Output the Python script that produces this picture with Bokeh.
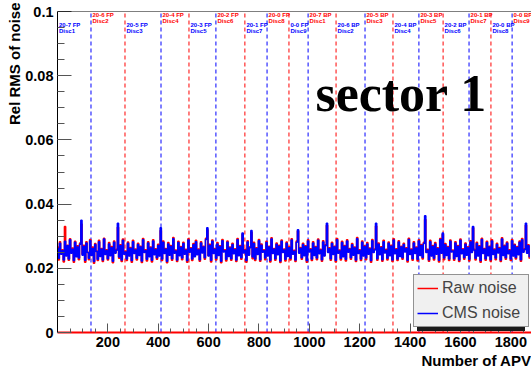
import numpy as np
from bokeh.plotting import figure
from bokeh.models import (Range1d, FixedTicker, Legend, LegendItem, Label, Span, Title,
                          ColumnDataSource)
from bokeh.core.properties import value
from bokeh.embed import file_html
from bokeh.resources import INLINE

# ---------------- data ----------------
APV_STEP = 5  # one sample every 5 APVs

# Relative RMS of noise, in units of 1e-4
raw_noise_e4 = [
    266, 226, 283, 246, 258, 220, 330, 241, 272, 225, 292, 249, 263, 219, 284, 238, 270, 227, 279, 338,
    244, 272, 219, 283, 250, 227, 290, 242, 266, 216, 277, 254, 224, 287, 239, 262, 221, 294, 245, 258,
    226, 280, 241, 268, 217, 285, 249, 259, 328, 231, 273, 221, 291, 246, 254, 224, 282, 240, 265, 219,
    287, 248, 260, 226, 278, 242, 269, 218, 293, 251, 258, 223, 283, 238, 266, 220, 289, 244, 261, 228,
    275, 240, 318, 224, 285, 248, 262, 217, 280, 243, 271, 225, 296, 249, 257, 221, 284, 241, 268, 227,
    281, 246, 259, 219, 292, 252, 264, 224, 277, 238, 287, 244, 260, 222, 283, 250, 269, 228, 294, 320,
    240, 275, 220, 288, 248, 262, 226, 280, 242, 270, 217, 290, 253, 258, 223, 285, 239, 266, 225, 278,
    247, 261, 221, 293, 241, 271, 228, 305, 250, 259, 219, 286, 243, 267, 312, 230, 281, 224, 264, 245,
    290, 222, 276, 252, 258, 227, 284, 240, 269, 220, 295, 248, 262, 225, 279, 244, 272, 218, 288, 251,
    260, 223, 282, 239, 267, 226, 292, 246, 256, 221, 285, 316, 249, 265, 228, 278, 241, 270, 219, 289,
    253, 261, 224, 283, 242, 268, 227, 291, 247, 259, 222, 286, 240, 273, 334, 251, 264, 225, 281, 245,
    269, 220, 293, 249, 257, 226, 284, 238, 271, 223, 289, 252, 262, 228, 277, 243, 266, 221, 296, 248,
    258, 224, 285, 240, 270, 227, 280, 246, 263, 219, 290, 251, 260, 332, 225, 279, 244, 267, 222, 287,
    250, 259, 226, 282, 241, 272, 221, 292, 247, 261, 224, 286, 239, 269, 228, 278, 253, 264, 220, 294,
    245, 260, 225, 283, 248, 266, 223, 289, 242, 274, 229, 281, 352, 251, 259, 222, 287, 240, 271, 226,
    280, 246, 264, 220, 293, 249, 306, 227, 277, 242, 268, 224, 288, 253, 257, 225, 283, 239, 271, 221,
    291, 247, 261, 228, 279, 243, 267, 223, 286, 251, 326, 259, 226, 281, 240, 270, 219, 294, 248, 262,
    225, 284, 241, 269, 222, 289, 245, 260, 227, 278, 250, 265, 221, 295, 242, 272, 228, 282, 247, 258,
    224, 290, 240, 275, 229, 268, 244, 285, 222, 293, 252, 261, 334, 249, 273, 231,
]
cms_noise_e4 = [
    262, 231, 278, 244, 255, 226, 284, 238, 270, 229, 289, 247, 259, 224, 281, 236, 266, 232, 275, 350,
    241, 268, 225, 279, 249, 231, 286, 240, 262, 221, 274, 252, 228, 283, 237, 259, 226, 291, 243, 255,
    230, 276, 239, 264, 222, 281, 247, 256, 340, 235, 270, 226, 287, 244, 251, 229, 278, 238, 262, 224,
    283, 246, 257, 231, 274, 240, 266, 223, 289, 249, 255, 228, 279, 236, 263, 225, 285, 242, 258, 233,
    271, 238, 326, 229, 281, 246, 259, 222, 276, 241, 268, 230, 292, 247, 254, 226, 280, 239, 265, 232,
    277, 244, 256, 224, 288, 250, 261, 229, 273, 236, 283, 242, 257, 227, 279, 248, 266, 233, 290, 326,
    238, 271, 225, 284, 246, 259, 231, 276, 240, 267, 222, 286, 251, 255, 228, 281, 237, 263, 230, 274,
    245, 258, 226, 289, 239, 268, 233, 310, 248, 256, 224, 282, 241, 264, 318, 235, 277, 229, 261, 243,
    286, 227, 272, 250, 255, 232, 280, 238, 266, 225, 291, 246, 259, 230, 275, 242, 269, 223, 284, 249,
    257, 228, 278, 237, 264, 231, 288, 244, 253, 226, 281, 320, 247, 262, 233, 274, 239, 267, 224, 285,
    251, 258, 229, 279, 240, 265, 232, 287, 245, 256, 227, 282, 238, 270, 340, 249, 261, 230, 277, 243,
    266, 225, 289, 247, 254, 231, 280, 236, 268, 228, 285, 250, 259, 233, 273, 241, 263, 226, 292, 246,
    255, 229, 281, 238, 267, 232, 276, 244, 260, 224, 286, 249, 257, 340, 230, 275, 242, 264, 227, 283,
    248, 256, 231, 278, 239, 269, 226, 288, 245, 258, 229, 282, 237, 266, 233, 274, 251, 261, 225, 290,
    243, 257, 230, 279, 246, 263, 228, 285, 240, 271, 234, 277, 364, 249, 256, 227, 283, 238, 268, 231,
    276, 244, 261, 225, 289, 247, 310, 232, 273, 240, 265, 229, 284, 251, 254, 230, 279, 237, 268, 226,
    287, 245, 258, 233, 275, 241, 264, 228, 282, 249, 330, 256, 231, 277, 238, 267, 224, 290, 246, 259,
    230, 280, 239, 266, 227, 285, 243, 257, 232, 274, 248, 262, 226, 291, 240, 269, 233, 278, 245, 255,
    229, 286, 238, 272, 234, 265, 242, 281, 227, 289, 250, 258, 340, 247, 270, 236,
]

# APV numbers where a new disc starts
disc_boundaries = [133, 268, 411, 522, 629, 744, 832, 919, 995,
                   1106, 1221, 1332, 1435, 1531, 1634, 1721, 1805]
disc_names = ["20-7 FP", "20-6 FP", "20-5 FP", "20-4 FP", "20-3 FP", "20-2 FP",
              "20-1 FP", "20-0 FP", "0-0 FP",
              "20-7 BP", "20-6 BP", "20-5 BP", "20-4 BP", "20-3 BP", "20-2 BP",
              "20-1 BP", "20-0 BP", "0-0 BP"]
disc_numbers = ["Disc1", "Disc2", "Disc3", "Disc4", "Disc5", "Disc6", "Disc7", "Disc8", "Disc9",
                "Disc1", "Disc2", "Disc3", "Disc4", "Disc5", "Disc6", "Disc7", "Disc8", "Disc9"]

y_ticks = [0, 0.02, 0.04, 0.06, 0.08, 0.1]
y_tick_labels = ["0", "0.02", "0.04", "0.06", "0.08", "0.1"]
x_ticks = [200, 400, 600, 800, 1000, 1200, 1400, 1600, 1800]
x_tick_labels = ["200", "400", "600", "800", "1000", "1200", "1400", "1600", "1800"]

# ---------------- figure ----------------
FONT = "Liberation Sans"
RED = "#ff0000"
BLUE = "#0000ff"
p = figure(width=531, height=369, x_range=Range1d(0, 1882), y_range=Range1d(0, 0.1),
           output_backend="svg", toolbar_location=None,
           min_border_left=57, min_border_right=0, min_border_top=11, min_border_bottom=37,
           outline_line_color=None, background_fill_color="white", border_fill_color="white")
p.xgrid.grid_line_color = None
p.ygrid.grid_line_color = None

# disc boundaries (dashed)
for parity, color in ((0, BLUE), (1, RED)):
    xs = [b for i, b in enumerate(disc_boundaries) if i % 2 == parity]
    src = ColumnDataSource(dict(x=xs, y0=[0] * len(xs), y1=[0.1] * len(xs)))
    p.segment(x0="x", y0="y0", x1="x", y1="y1", source=src, line_color=color,
              line_width=1, line_dash="4 3")

# noise series (histogram-like steps)
apv = np.arange(len(raw_noise_e4)) * APV_STEP
raw = np.array(raw_noise_e4) * 1e-4
cms = np.array(cms_noise_e4) * 1e-4
r_raw = p.step(apv, raw, mode="center", line_color=RED, line_width=1.5)
r_cms = p.step(apv, cms, mode="center", line_color=BLUE, line_width=1.5)

# disc labels
starts = [0] + disc_boundaries
for parity, color, off in ((0, BLUE, 13.5), (1, RED, 3.5)):
    idx = [i for i in range(len(disc_names)) if i % 2 == parity]
    src = ColumnDataSource(dict(x=[starts[i] for i in idx], y=[0.1] * len(idx),
                                t1=[disc_names[i] for i in idx],
                                t2=[disc_numbers[i] for i in idx]))
    for col, dy in (("t1", 0), ("t2", 6.2)):
        p.text(x="x", y="y", text=col, source=src, text_color=color,
               text_font=value(FONT), text_font_style="bold", text_font_size="6px",
               text_baseline="middle", text_align="left", x_offset=1.5, y_offset=off + dy)

# axes
for ax in (p.xaxis[0], p.yaxis[0]):
    ax.axis_line_color = "black"
    ax.major_tick_line_color = "#555555"
    ax.minor_tick_line_color = "#555555"
    ax.major_tick_out = 0
    ax.minor_tick_out = 0
    ax.major_label_text_font = FONT
    ax.major_label_text_font_style = "bold"
    ax.major_label_text_font_size = "14.5px"
    ax.major_label_text_color = "black"
    ax.major_label_standoff = 4

p.xaxis.ticker = FixedTicker(ticks=x_ticks, minor_ticks=list(np.arange(0, 1900, 50)))
p.xaxis.major_label_overrides = dict(zip(x_ticks, x_tick_labels))
p.xaxis.major_tick_in = 9
p.xaxis.minor_tick_in = 4
p.xaxis.axis_line_color = RED
p.xaxis.axis_line_width = 2

p.yaxis.ticker = FixedTicker(ticks=y_ticks, minor_ticks=list(np.arange(0, 0.1001, 0.005)))
p.yaxis.major_label_overrides = dict(zip(y_ticks, y_tick_labels))
p.yaxis.major_tick_in = 14
p.yaxis.minor_tick_in = 7

p.add_layout(Span(location=0.1, dimension="width", line_color="black", line_width=1))

# axis titles
p.add_layout(Title(text="Number of APV", align="right", text_font=FONT, text_font_style="bold",
                   text_font_size="15px", text_color="black", standoff=0, offset=0), "below")
p.add_layout(Title(text="Rel RMS of noise", align="right", text_font=FONT,
                   text_font_style="bold", text_font_size="15px", text_color="black",
                   standoff=0, offset=-9), "left")

p.add_layout(Label(x=1024, y=0.0744, text="sector 1", text_font="Liberation Serif",
                   text_font_style="bold", text_font_size="52px", text_color="black",
                   text_baseline="alphabetic"))

# legend, with a dark shadow box drawn as a blank legend behind it
legend_kw = dict(padding=3, spacing=5, label_height=20, glyph_height=20, glyph_width=21,
                 label_standoff=4, label_width=83, label_text_font=FONT,
                 label_text_font_size="16px")
shadow = Legend(items=[LegendItem(label=" ", renderers=[]),
                       LegendItem(label=" ", renderers=[])],
                location=(360, 1.5), label_text_alpha=0, border_line_color=None,
                background_fill_color="#1a1a1a", background_fill_alpha=1, **legend_kw)
p.add_layout(shadow)
legend = Legend(items=[LegendItem(label="Raw noise", renderers=[r_raw]),
                       LegendItem(label="CMS noise", renderers=[r_cms])],
                location=(356, 5.5), border_line_color="#333333", border_line_width=1,
                background_fill_color="#f0f0f0", background_fill_alpha=1, **legend_kw)
p.add_layout(legend)

open("out.html", "w").write(file_html(p, INLINE))
